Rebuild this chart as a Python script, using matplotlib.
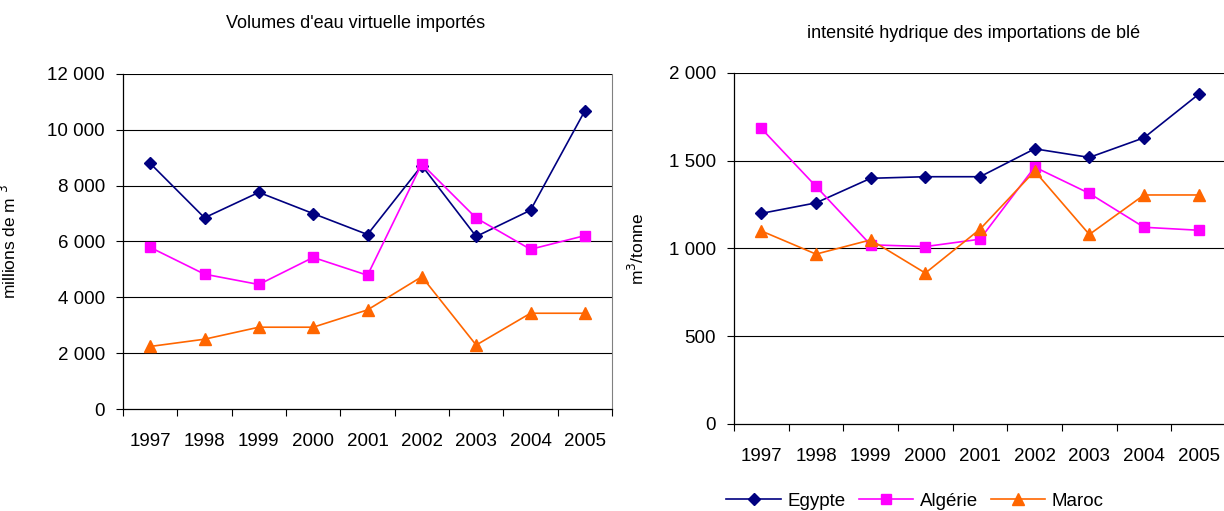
import matplotlib
matplotlib.use("Agg")
import matplotlib.pyplot as plt
import numpy as np

years = ["1997", "1998", "1999", "2000", "2001", "2002", "2003", "2004", "2005"]

vol_egypte = [8800, 6850, 7760, 7000, 6250, 8720, 6180, 7120, 10680]
vol_algerie = [5790, 4830, 4460, 5430, 4790, 8780, 6840, 5720, 6210]
vol_maroc = [2240, 2500, 2930, 2930, 3550, 4740, 2290, 3430, 3430]

int_egypte = [1200, 1260, 1400, 1409, 1409, 1568, 1519, 1631, 1879]
int_algerie = [1684, 1354, 1021, 1011, 1053, 1464, 1314, 1121, 1104]
int_maroc = [1100, 968, 1049, 860, 1110, 1441, 1080, 1305, 1305]

series_names = ["Egypte", "Algérie", "Maroc"]
colors = ["#000080", "#FF00FF", "#FF6600"]
markers = ["D", "s", "^"]
msizes = [6.5, 7, 8]

plt.rcParams['font.family'] = ['Liberation Sans', 'DejaVu Sans']

fig = plt.figure(figsize=(12.24, 5.11), dpi=100)
W, H = 1224, 511
TICK_FS = 13.5

def fmt(v):
    return f"{int(v):,}".replace(",", " ")

def setup(ax, ymax, ystep):
    x = np.arange(len(years))
    ax.set_xlim(-0.5, len(years) - 0.5)
    ax.set_ylim(0, ymax)
    yt = np.arange(0, ymax + 1, ystep)
    ax.set_yticks(yt)
    ax.set_yticklabels([fmt(v) for v in yt], fontsize=TICK_FS)
    ax.set_xticks(x)
    ax.set_xticklabels(years, fontsize=TICK_FS)
    ax.tick_params(axis='x', which='major', length=0, pad=17.5)
    ax.set_xticks(np.arange(-0.5, len(years), 1), minor=True)
    ax.tick_params(axis='x', which='minor', length=5, width=0.8, color='black', direction='out')
    ax.tick_params(axis='y', length=5, width=0.8, direction='out', pad=8)
    for v in yt[1:]:
        ax.axhline(v, color='black', lw=0.8, zorder=1)
    for sp in ['top', 'right']:
        ax.spines[sp].set_visible(False)
    for sp in ['left', 'bottom']:
        ax.spines[sp].set_color('black')
        ax.spines[sp].set_linewidth(0.9)

x = np.arange(len(years))

# Left chart
ax1 = fig.add_axes([123 / W, 1 - 409 / H, (612 - 123) / W, (409 - 74) / H])
setup(ax1, 12000, 2000)
ax1.spines['right'].set_visible(True)
ax1.spines['right'].set_color('#808080')
for vals, c, m, ms in zip([vol_egypte, vol_algerie, vol_maroc], colors, markers, msizes):
    ax1.plot(x, vals, color=c, marker=m, markersize=ms, lw=1.2, zorder=3)
ax1.set_ylabel("millions de m $^{3}$", fontsize=12.5)
ax1.yaxis.set_label_coords((19 - 123) / (612 - 123), 0.5)
fig.text(356 / W, 1 - 23 / H, "Volumes d'eau virtuelle importés", ha='center', va='center', fontsize=13)

# Right chart
ax2 = fig.add_axes([734 / W, 1 - 424 / H, (1226 - 734) / W, (424 - 73) / H])
setup(ax2, 2000, 500)
lines = []
for vals, c, m, ms, n in zip([int_egypte, int_algerie, int_maroc], colors, markers, msizes, series_names):
    l, = ax2.plot(x, vals, color=c, marker=m, markersize=ms, lw=1.2, zorder=3, label=n)
    lines.append(l)
ax2.set_ylabel("m$^{3}$/tonne", fontsize=12.5)
ax2.yaxis.set_label_coords((647 - 734) / (1226 - 734), 0.5)
fig.text(974 / W, 1 - 33 / H, "intensité hydrique des importations de blé", ha='center', va='center', fontsize=13)

fig.legend(handles=lines, labels=series_names, loc='center', bbox_to_anchor=(915 / W, 1 - 501 / H),
           ncol=3, frameon=False, fontsize=13.5, handlelength=2.9, columnspacing=0.7, handletextpad=0.35,
           borderpad=0)

fig.savefig("out.png", dpi=100)
